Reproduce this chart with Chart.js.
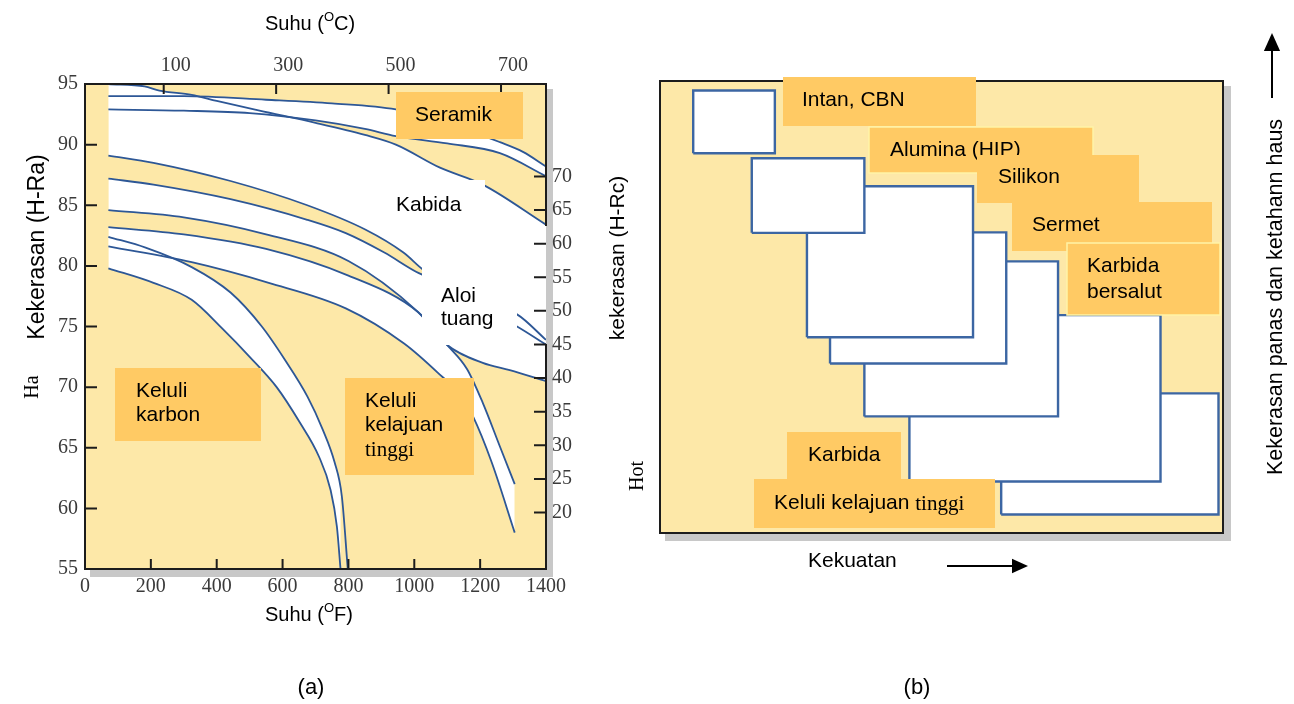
<!DOCTYPE html>
<html>
<head>
<meta charset="utf-8">
<script src="https://cdn.jsdelivr.net/npm/chart.js@4.4.1/dist/chart.umd.min.js"></script>
<style>
    html, body { margin: 0; padding: 0; background: #fff; }
    #wrap { position: relative; width: 1294px; height: 704px; overflow: hidden; }
    #chartA { position: absolute; left: 0; top: 0; }
    #chartB { position: absolute; left: 600px; top: 0; }
</style>
</head>
<body>
<div id="wrap">
    <canvas id="chartA" width="600" height="704"></canvas>
    <canvas id="chartB" width="694" height="704"></canvas>
</div>
<script>
// ---------- panel (a): hot hardness vs temperature ----------
const fahrenheitTicks = [0, 200, 400, 600, 800, 1000, 1200, 1400];
const celsiusTicks = [100, 300, 500, 700];
const hraTicks = [55, 60, 65, 70, 75, 80, 85, 90, 95];
const hrcTicks = [20, 25, 30, 35, 40, 45, 50, 55, 60, 65, 70];

const ceramicHighF = [71, 300, 550, 750, 944, 1100, 1260, 1330, 1400];
const ceramicHigh  = [94.0, 94.0, 93.7, 93.4, 92.9, 91.8, 90.2, 89.4, 88.2];
const ceramicLowF  = [71, 300, 500, 700, 850, 944, 1100, 1260, 1400];
const ceramicLow   = [92.9, 92.8, 92.6, 92.0, 91.3, 90.7, 90.1, 89.3, 87.4];

const carbideHighF = [71, 181, 226, 324, 400, 530, 700, 850, 944, 1078, 1208, 1400];
const carbideHigh  = [95.0, 94.8, 94.45, 94.1, 93.6, 92.8, 91.8, 90.8, 90.0, 88.1, 86.7, 83.4];
const carbideLowF  = [71, 208, 442, 675, 851, 967, 1026, 1100, 1200, 1312, 1400];
const carbideLow   = [89.1, 88.5, 87.0, 85.0, 83.0, 81.1, 79.7, 78.3, 76.6, 75.0, 73.5];

const castHighF = [71, 208, 442, 675, 792, 909, 1014, 1100, 1200, 1312, 1400];
const castHigh  = [87.2, 86.7, 85.5, 83.8, 82.7, 81.1, 79.4, 78.5, 77.0, 76.0, 73.9];
const castLowF  = [71, 300, 550, 800, 1011, 1099, 1208, 1290, 1400];
const castLow   = [84.6, 84.0, 82.6, 80.4, 76.2, 73.5, 72.0, 71.4, 70.5];

const hssHighF = [71, 300, 550, 800, 1011, 1099, 1160, 1208, 1260, 1305];
const hssHigh  = [83.2, 82.6, 81.4, 79.2, 76.2, 73.5, 71.5, 68.7, 65.1, 62.0];
const hssLowF  = [71, 324, 558, 792, 969, 1071, 1144, 1178, 1235, 1305];
const hssLow   = [81.6, 80.3, 78.6, 76.5, 73.6, 71.2, 69.2, 67.6, 63.8, 58.0];

const carbonHighF = [71, 184, 324, 442, 537, 606, 676, 722, 758, 780, 798];
const carbonHigh  = [82.4, 81.5, 79.9, 77.8, 75.0, 72.3, 69.2, 66.5, 63.8, 61.0, 55.0];
const carbonLowF  = [71, 208, 324, 418, 500, 582, 652, 710, 746, 765, 776];
const carbonLow   = [79.8, 78.6, 77.2, 74.8, 72.5, 70.0, 67.1, 64.3, 61.5, 58.5, 55.0];

// ---------- panel (b): tool materials, strength vs hot hardness ----------
const toolMaterials = ['Intan, CBN', 'Alumina (HIP)', 'Silikon nitrida', 'Sermet',
    'Karbida bersalut', 'Karbida', 'Keluli kelajuan tinggi'];
const strengthMin = [5.9, 16.3, 26.1, 30.2, 36.3, 44.3, 60.6];
const strengthMax = [20.4, 36.3, 55.6, 61.5, 70.7, 88.9, 99.2];
const hotHardMin  = [84.0, 66.4, 43.3, 37.5, 25.8, 11.4, 4.1];
const hotHardMax  = [97.9, 82.9, 76.7, 66.5, 60.1, 48.2, 30.9];

const SANS = '"Liberation Sans", Arial, sans-serif';
const SERIF = '"Liberation Serif", "Times New Roman", serif';
const YELLOW = '#fde8a8';
const ORANGE = '#ffca64';
const BLUE = '#2d5796';

const pts = (xs, ys) => xs.map((x, i) => ({ x, y: ys[i] }));

function label(ctx, str, x, y, font, align) {
    ctx.save();
    ctx.font = font;
    ctx.fillStyle = '#000';
    ctx.textAlign = align || 'left';
    ctx.textBaseline = 'middle';
    ctx.fillText(str, x, y);
    ctx.restore();
}

function vlabel(ctx, str, x, y, font) {
    ctx.save();
    ctx.translate(x, y);
    ctx.rotate(-Math.PI / 2);
    ctx.font = font;
    ctx.fillStyle = '#000';
    ctx.textAlign = 'center';
    ctx.textBaseline = 'middle';
    ctx.fillText(str, 0, 0);
    ctx.restore();
}

function box(ctx, x0, y0, x1, y1, fill, edge) {
    ctx.save();
    ctx.fillStyle = fill;
    ctx.fillRect(x0, y0, x1 - x0, y1 - y0);
    if (edge) {
        ctx.strokeStyle = edge;
        ctx.lineWidth = 1.5;
        ctx.strokeRect(x0, y0, x1 - x0, y1 - y0);
    }
    ctx.restore();
}

// "Suhu (OC)" with a raised small O
function degreeTitle(ctx, unit, x, y) {
    ctx.save();
    ctx.fillStyle = '#000';
    ctx.textBaseline = 'alphabetic';
    ctx.font = '20px ' + SANS;
    ctx.fillText('Suhu (', x, y);
    let w = ctx.measureText('Suhu (').width;
    ctx.font = '13px ' + SANS;
    ctx.fillText('O', x + w, y - 9);
    w += ctx.measureText('O').width;
    ctx.font = '20px ' + SANS;
    ctx.fillText(unit + ')', x + w, y);
    ctx.restore();
}

function arrow(ctx, x0, y0, x1, y1, head) {
    const a = Math.atan2(y1 - y0, x1 - x0);
    const c = Math.cos(a), s = Math.sin(a);
    ctx.save();
    ctx.strokeStyle = '#000';
    ctx.fillStyle = '#000';
    ctx.lineWidth = 2;
    ctx.beginPath();
    ctx.moveTo(x0, y0);
    ctx.lineTo(x1 - c * head, y1 - s * head);
    ctx.stroke();
    ctx.beginPath();
    ctx.moveTo(x1, y1);
    ctx.lineTo(x1 - c * head + s * head * 0.45, y1 - s * head - c * head * 0.45);
    ctx.lineTo(x1 - c * head - s * head * 0.45, y1 - s * head + c * head * 0.45);
    ctx.closePath();
    ctx.fill();
    ctx.restore();
}

const fixedTicks = values => scale => { scale.ticks = values.map(v => ({ value: v })); };
const tickStyle = {
    font: { family: SERIF, size: 20 },
    color: '#3a3a3a',
    maxRotation: 0,
    autoSkip: false,
    callback: v => String(v)
};

// ---------- chart (a) ----------
const bandLine = { borderColor: BLUE, borderWidth: 1.8, pointRadius: 0, cubicInterpolationMode: 'monotone' };
function band(xsHigh, high, xsLow, low) {
    return [
        { ...bandLine, data: pts(xsHigh, high), fill: '+1', backgroundColor: '#ffffff' },
        { ...bandLine, data: pts(xsLow, low), fill: false }
    ];
}

const panelA = {
    id: 'panelA',
    beforeDraw(chart) {
        const { ctx, chartArea: a } = chart;
        ctx.save();
        ctx.fillStyle = '#c8c8c8';
        ctx.fillRect(a.left + 5, a.top + 5, a.right - a.left + 2, a.bottom - a.top + 3);
        ctx.fillStyle = YELLOW;
        ctx.fillRect(a.left, a.top, a.right - a.left, a.bottom - a.top);
        ctx.restore();
    },
    afterDatasetsDraw(chart) {
        const { ctx, chartArea: a, scales } = chart;
        // white backgrounds behind the band names
        box(ctx, 392, 180, 485, 233, '#fff');
        box(ctx, 422, 232, 517, 345, '#fff');
        label(ctx, 'Kabida', 396, 205, '21px ' + SANS);
        label(ctx, 'Aloi', 441, 296, '21px ' + SANS);
        label(ctx, 'tuang', 441, 319, '21px ' + SANS);

        // frame (right edge is hidden behind a white patch in the middle) and inward ticks
        ctx.save();
        ctx.strokeStyle = '#1c1c1c';
        ctx.lineWidth = 2;
        ctx.beginPath();
        ctx.moveTo(a.right, 226);
        ctx.lineTo(a.right, a.top);
        ctx.lineTo(a.left, a.top);
        ctx.lineTo(a.left, a.bottom);
        ctx.lineTo(a.right, a.bottom);
        ctx.lineTo(a.right, 344);
        fahrenheitTicks.slice(1, -1).forEach(v => {
            const x = scales.x.getPixelForValue(v);
            ctx.moveTo(x, a.bottom); ctx.lineTo(x, a.bottom - 10);
        });
        celsiusTicks.forEach(v => {
            const x = scales.xTop.getPixelForValue(v);
            ctx.moveTo(x, a.top); ctx.lineTo(x, a.top + 10);
        });
        hraTicks.slice(1, -1).forEach(v => {
            const y = scales.y.getPixelForValue(v);
            ctx.moveTo(a.left, y); ctx.lineTo(a.left + 12, y);
        });
        hrcTicks.forEach(v => {
            const y = scales.yRight.getPixelForValue(v);
            ctx.moveTo(a.right, y); ctx.lineTo(a.right - 12, y);
        });
        ctx.stroke();
        ctx.restore();

        // orange name boxes
        box(ctx, 396, 92, 523, 139, ORANGE);
        label(ctx, 'Seramik', 415, 115, '21px ' + SANS);
        box(ctx, 115, 368, 261, 441, ORANGE);
        label(ctx, 'Keluli', 136, 391, '21px ' + SANS);
        label(ctx, 'karbon', 136, 415, '21px ' + SANS);
        box(ctx, 345, 378, 474, 475, ORANGE);
        label(ctx, 'Keluli', 365, 401, '21px ' + SANS);
        label(ctx, 'kelajuan', 365, 425, '21px ' + SANS);
        label(ctx, 'tinggi', 365, 450, '21px ' + SERIF);
    },
    afterDraw(chart) {
        const { ctx } = chart;
        degreeTitle(ctx, 'C', 265, 30);
        degreeTitle(ctx, 'F', 265, 621);
        vlabel(ctx, 'Kekerasan (H-Ra)', 38, 247, '23px ' + SANS);
        vlabel(ctx, 'Ha', 33, 387, '20px ' + SERIF);
        label(ctx, '(a)', 311, 688, '22px ' + SANS, 'center');
    }
};

new Chart(document.getElementById('chartA'), {
    type: 'line',
    data: {
        datasets: [
            ...band(ceramicHighF, ceramicHigh, ceramicLowF, ceramicLow),
            ...band(carbideHighF, carbideHigh, carbideLowF, carbideLow),
            ...band(castHighF, castHigh, castLowF, castLow),
            ...band(hssHighF, hssHigh, hssLowF, hssLow),
            ...band(carbonHighF, carbonHigh, carbonLowF, carbonLow)
        ]
    },
    options: {
        responsive: false,
        animation: false,
        layout: { padding: 0 },
        plugins: {
            legend: { display: false },
            tooltip: { enabled: false },
            filler: { drawTime: 'beforeDatasetsDraw' }
        },
        scales: {
            x: {
                type: 'linear', position: 'bottom', min: 0, max: 1400,
                afterBuildTicks: fixedTicks(fahrenheitTicks),
                afterFit: s => { s.height = 135; },
                grid: { display: false, drawTicks: false },
                border: { display: false },
                ticks: { ...tickStyle, padding: 6 }
            },
            xTop: {
                type: 'linear', position: 'top', min: -40, max: 780,
                afterBuildTicks: fixedTicks(celsiusTicks),
                afterFit: s => { s.height = 84; },
                grid: { display: false, drawTicks: false },
                border: { display: false },
                ticks: { ...tickStyle, padding: 6, labelOffset: 12 }
            },
            y: {
                type: 'linear', position: 'left', min: 55, max: 95,
                afterBuildTicks: fixedTicks(hraTicks),
                afterFit: s => { s.width = 85; },
                grid: { display: false, drawTicks: false },
                border: { display: false },
                ticks: { ...tickStyle, padding: 7 }
            },
            yRight: {
                type: 'linear', position: 'right', min: 11.6, max: 83.75,
                afterBuildTicks: fixedTicks(hrcTicks),
                afterFit: s => { s.width = 54; },
                grid: { display: false, drawTicks: false },
                border: { display: false },
                ticks: { ...tickStyle, padding: 6 }
            }
        }
    },
    plugins: [panelA]
});

// ---------- chart (b) ----------
const rectSets = toolMaterials.map((name, i) => ({
    label: name,
    data: [
        { x: strengthMin[i], y: hotHardMin[i] },
        { x: strengthMax[i], y: hotHardMin[i] },
        { x: strengthMax[i], y: hotHardMax[i] },
        { x: strengthMin[i], y: hotHardMax[i] },
        { x: strengthMin[i], y: hotHardMin[i] }
    ],
    borderColor: '#3c66a3',
    borderWidth: 2.4,
    backgroundColor: '#ffffff',
    fill: 'shape',
    pointRadius: 0,
    tension: 0,
    borderJoinStyle: 'miter'
}));

const panelB = {
    id: 'panelB',
    beforeDraw(chart) {
        const { ctx, chartArea: a } = chart;
        ctx.save();
        ctx.fillStyle = '#c8c8c8';
        ctx.fillRect(a.left + 5, a.top + 5, a.right - a.left + 3, a.bottom - a.top + 3);
        ctx.fillStyle = YELLOW;
        ctx.fillRect(a.left, a.top, a.right - a.left, a.bottom - a.top);
        ctx.restore();
    },
    afterDatasetsDraw(chart) {
        const { ctx, chartArea: a } = chart;
        ctx.save();
        ctx.strokeStyle = '#1c1c1c';
        ctx.lineWidth = 2;
        ctx.strokeRect(a.left, a.top, a.right - a.left, a.bottom - a.top);
        ctx.restore();

        const f = '21px ' + SANS;
        box(ctx, 183, 77, 376, 126, ORANGE);
        label(ctx, 'Intan, CBN', 202, 100, f);
        box(ctx, 269, 127, 493, 173, ORANGE, '#fff3a6');
        label(ctx, 'Alumina (HIP)', 290, 150, f);
        box(ctx, 377, 155, 539, 203, ORANGE);
        label(ctx, 'Silikon', 398, 177, f);
        box(ctx, 412, 202, 612, 251, ORANGE);
        label(ctx, 'Sermet', 432, 225, f);
        box(ctx, 467, 243, 620, 315, ORANGE, '#fff3a6');
        label(ctx, 'Karbida', 487, 266, f);
        label(ctx, 'bersalut', 487, 292, f);
        box(ctx, 187, 432, 301, 479, ORANGE);
        label(ctx, 'Karbida', 208, 455, f);
        box(ctx, 154, 479, 395, 528, ORANGE);
        ctx.save();
        ctx.font = f;
        const w = ctx.measureText('Keluli kelajuan ').width;
        ctx.restore();
        label(ctx, 'Keluli kelajuan ', 174, 503, f);
        label(ctx, 'tinggi', 174 + w, 504, '21px ' + SERIF);
    },
    afterDraw(chart) {
        const { ctx } = chart;
        vlabel(ctx, 'kekerasan (H-Rc)', 18, 258, '21px ' + SANS);
        vlabel(ctx, 'Hot', 38, 476, '20px ' + SERIF);
        label(ctx, 'Kekuatan', 208, 561, '21px ' + SANS);
        arrow(ctx, 347, 566, 428, 566, 16);
        vlabel(ctx, 'Kekerasan panas dan ketahann haus', 676, 297, '21.5px ' + SANS);
        arrow(ctx, 672, 98, 672, 33, 18);
        label(ctx, '(b)', 317, 688, '22px ' + SANS, 'center');
    }
};

new Chart(document.getElementById('chartB'), {
    type: 'line',
    data: { datasets: rectSets },
    options: {
        responsive: false,
        animation: false,
        layout: { padding: { left: 60, right: 71, top: 81, bottom: 171 } },
        plugins: { legend: { display: false }, tooltip: { enabled: false } },
        scales: {
            x: { type: 'linear', min: 0, max: 100, display: false },
            y: { type: 'linear', min: 0, max: 100, display: false }
        }
    },
    plugins: [panelB]
});
</script>
</body>
</html>
